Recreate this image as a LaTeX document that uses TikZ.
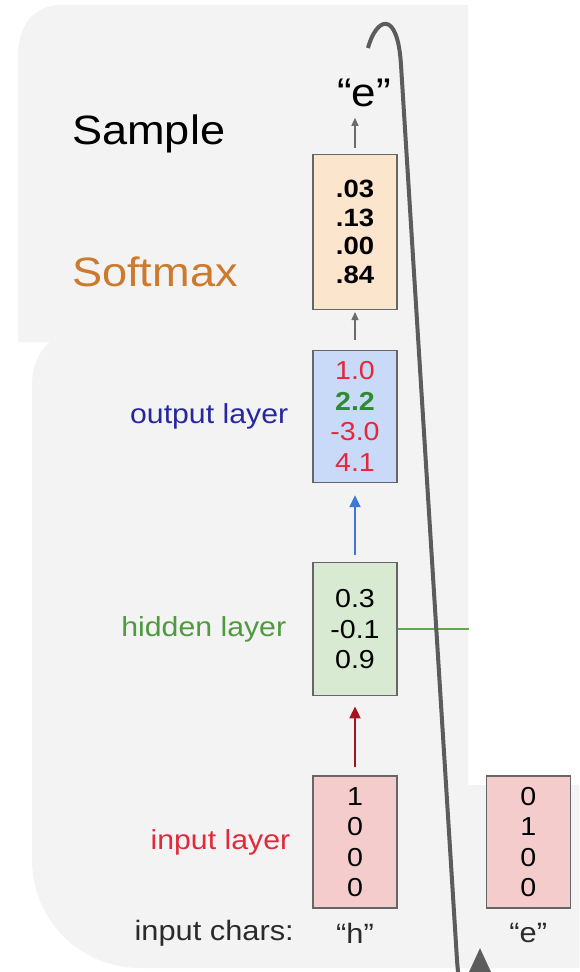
\documentclass[tikz,border=0pt]{standalone}
\usepackage{fontspec}
\setmainfont[FakeStretch=1.1]{Liberation Sans}
\usepackage{tikz}
\usetikzlibrary{arrows.meta,positioning}
\definecolor{panelgray}{HTML}{F3F3F3}
\definecolor{boxline}{HTML}{666666}
\definecolor{peach}{HTML}{FCE5CD}
\definecolor{softblue}{HTML}{C9DAF8}
\definecolor{softgreen}{HTML}{D9EAD3}
\definecolor{softpink}{HTML}{F4CCCC}
\definecolor{valred}{HTML}{E3283A}
\definecolor{valgreen}{HTML}{2E8B2E}
\definecolor{navyblue}{HTML}{27279E}
\definecolor{leafgreen}{HTML}{4F9A3E}
\definecolor{rosered}{HTML}{E02A3C}
\definecolor{amber}{HTML}{CC7A2C}
\definecolor{ink}{HTML}{2B2B2B}
\definecolor{arrowgray}{HTML}{6B6B6B}
\definecolor{arrowblue}{HTML}{3D78D8}
\definecolor{arrowred}{HTML}{A8121C}
\definecolor{loopgray}{HTML}{5C5C5C}
\definecolor{linkgreen}{HTML}{62A84A}
\tikzset{
    vecbox/.style={draw=boxline,line width=1.2pt,minimum width=84pt,
      minimum height=132pt,inner sep=0pt,align=center,
      font=\fontsize{26}{30.5}\selectfont},
    sidelabel/.style={font=\fontsize{27.5}{32}\selectfont,inner sep=0pt},
    biglabel/.style={font=\fontsize{41}{46}\selectfont,inner sep=0pt,anchor=west},
    charlabel/.style={font=\fontsize{28}{32}\selectfont,inner sep=0pt,text=ink},
    smallarrow/.style={-{Triangle[length=8pt,width=7pt]},draw=arrowgray,line width=1.4pt},
    layerarrow/.style={-{Triangle[length=12pt,width=11pt]},line width=2pt}
}

\begin{document}
\begin{tikzpicture}[x=1pt,y=-1pt]
  \useasboundingbox (0,0) rectangle (579,972);
  \clip (0,0) rectangle (579,972);
  % background panel
  \fill[panelgray] (60,5) -- (468,5) -- (468,785) -- (579,785) -- (579,968)
    -- (140,968) .. controls (80,968) and (32,920) .. (32,860) -- (32,385)
    .. controls (32,365) and (40,350) .. (50,342) -- (18,342) -- (18,55)
    .. controls (18,25) and (35,5) .. (60,5) -- cycle;

  % column of layers
  \node[vecbox,fill=softpink] (inp) at (355,842) {1\\0\\0\\0};
  \node[vecbox,fill=softgreen,minimum height=133pt,above=79pt of inp] (hid) {0.3\\-0.1\\0.9};
  \node[vecbox,fill=softblue,above=79pt of hid] (out)
    {\textcolor{valred}{1.0}\\\textcolor{valgreen}{\bfseries 2.2}\\\textcolor{valred}{-3.0}\\\textcolor{valred}{4.1}};
  \node[vecbox,fill=peach,minimum height=155pt,above=40pt of out,
    font=\fontsize{25}{28.5}\selectfont\bfseries] (soft) {.03\\.13\\.00\\.84};
  \node[font=\fontsize{40}{46}\selectfont,inner sep=0pt,above=47pt of soft,xshift=9pt] (samp) {“e”};
  \node[vecbox,fill=softpink,right=88pt of inp] (inp2) {0\\1\\0\\0};

  % labels
  \node[biglabel] (samplab) at (72,134) {Sample};
  \node[biglabel,text=amber] (softlab) at (72,272) {Softmax};
  \node[sidelabel,text=navyblue,left=24pt of out] (outlab) {output layer};
  \node[sidelabel,text=leafgreen,left=26pt of hid] (hidlab) {hidden layer};
  \node[sidelabel,text=rosered,left=22pt of inp] (inplab) {input layer};
  \node[charlabel,below=14pt of inp] (hchar) {“h”};
  \node[charlabel,below=14pt of inp2] (echar) {“e”};
  \node[charlabel,left=42pt of hchar] (charlab) {input chars:};

  % arrows between layers
  \draw[smallarrow,shorten <=6pt,shorten >=11pt] (soft.north) -- (samp.south -| soft.north);
  \draw[smallarrow,shorten <=10pt,shorten >=2pt] (out) -- (soft);
  \draw[layerarrow,draw=arrowblue,shorten <=7pt,shorten >=12pt] (hid) -- (out);
  \draw[layerarrow,draw=arrowred,shorten <=8pt,shorten >=10pt] (inp) -- (hid);

  % recurrence line and sample loop
  \coordinate[right=71pt of hid.east] (linkend);
  \draw[linkgreen,line width=1.8pt] (hid.east) -- (linkend);
  \coordinate (loopstart) at (368,48);
  \coordinate (looptip) at (480,948);
  \draw[loopgray,line width=4pt,-{Triangle[length=36pt,width=32pt]}]
    (loopstart) .. controls (376,18) and (397.5,8) .. (401,65) -- (457,960)
    .. controls (462,1030) and (480,1030) .. (looptip);
\end{tikzpicture}
\end{document}
